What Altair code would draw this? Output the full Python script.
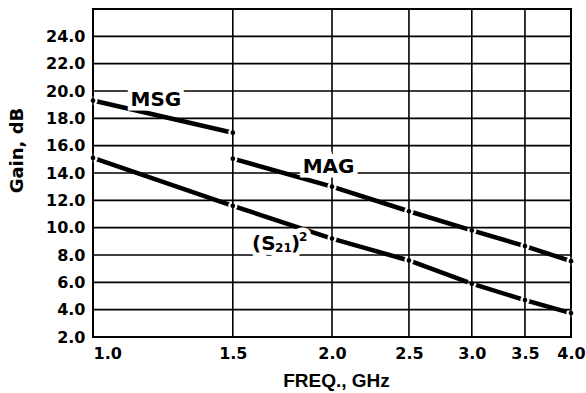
import altair as alt
import pandas as pd

# Gain curves versus frequency
msg_freq = [1.0, 1.5]
msg_gain = [19.3, 16.95]

mag_freq = [1.5, 2.0, 2.5, 3.0, 3.5, 4.0]
mag_gain = [15.05, 13.0, 11.2, 9.8, 8.65, 7.55]

s21_freq = [1.0, 1.5, 2.0, 2.5, 3.0, 3.5, 4.0]
s21_gain = [15.1, 11.6, 9.2, 7.6, 5.9, 4.7, 3.75]

# Axis ticks
x_ticks = [1.0, 1.5, 2.0, 2.5, 3.0, 3.5, 4.0]
y_ticks = [2, 4, 6, 8, 10, 12, 14, 16, 18, 20, 22, 24]
y_grid = y_ticks + [26]

# Curve labels
label_text = ["MSG", "MAG"]
label_freq = [1.20, 1.98]
label_gain = [19.35, 14.45]

# (S21)^2 label anchor (left edge, vertical centre)
s21_label_freq = [1.586]
s21_label_gain = [8.8]

rows = []
for name, fs, gs in [("MSG", msg_freq, msg_gain), ("MAG", mag_freq, mag_gain),
                     ("S21", s21_freq, s21_gain)]:
    for f, g in zip(fs, gs):
        rows.append({"series": name, "freq": f, "gain": g})
curves = pd.DataFrame(rows)
labels = pd.DataFrame({"text": label_text, "freq": label_freq, "gain": label_gain})
s21_anchor = pd.DataFrame({"freq": s21_label_freq, "gain": s21_label_gain})
xgrid = pd.DataFrame({"freq": x_ticks})
ygrid = pd.DataFrame({"gain": y_grid})

x_scale = alt.Scale(type="log", domain=[1.0, 4.0], nice=False)
y_scale = alt.Scale(domain=[2, 26], nice=False, zero=False)

x_axis = alt.Axis(
    values=x_ticks, format=".1f", grid=False, ticks=False, domain=False,
    labelFont="DejaVu Sans", labelFontWeight="bold", labelFontSize=16,
    labelColor="black", labelPadding=8, labelOverlap=False,
    labelAlign={"condition": {"test": "datum.value <= 1", "value": "left"}, "value": "center"},
    title="FREQ., GHz", titleFont="Liberation Sans", titleFontSize=19,
    titleFontWeight="bold", titleColor="black", titleX=243, titleY=49,
    titleBaseline="alphabetic", titleAnchor="start", titleAlign="center",
)
y_axis = alt.Axis(
    values=y_ticks, format=".1f", grid=False, ticks=False, domain=False,
    labelFont="DejaVu Sans", labelFontWeight="bold", labelFontSize=16,
    labelColor="black", labelPadding=8, labelOverlap=False, labelBound=False,
    labelSeparation=0,
    title="Gain, dB", titleFont="DejaVu Sans", titleFontSize=18,
    titleFontWeight="bold", titleColor="black", titleX=-76, titleY=141,
    titleAngle=-90, titleAlign="center", titleBaseline="middle",
)

# Same encodings in every layer so the merged axes agree
X = alt.X("freq:Q", scale=x_scale, axis=x_axis)
Y = alt.Y("gain:Q", scale=y_scale, axis=y_axis)

lines = alt.Chart(curves).mark_line(color="black", strokeWidth=4.5, strokeCap="butt").encode(
    x=X, y=Y, detail="series:N",
)
gaps = alt.Chart(curves).mark_point(filled=True, color="white", size=85, opacity=1, shape="circle").encode(
    x=X, y=Y
)
vgrid = alt.Chart(xgrid).mark_rule(color="black", strokeWidth=1.6).encode(x=X)
hgrid = alt.Chart(ygrid).mark_rule(color="black", strokeWidth=1.6).encode(y=Y)
dots = alt.Chart(curves).mark_point(filled=True, color="black", size=22, opacity=1, shape="circle").encode(
    x=X, y=Y
)


def text_layer(df, text, size, dx=0, dy=0, align="center", halo=False):
    """One text piece; with halo=True a white outline that clears the grid behind it."""
    props = dict(font="DejaVu Sans", fontSize=size, fontWeight="bold", baseline="middle",
                 align=align, dx=dx, dy=dy)
    if halo:
        props.update(color="white", stroke="white", strokeWidth=9)
    else:
        props.update(color="black")
    if text is None:
        return alt.Chart(df).mark_text(**props).encode(x=X, y=Y, text="text:N")
    return alt.Chart(df).mark_text(text=text, **props).encode(x=X, y=Y)


# (S21)^2 built from pieces: main text, subscript, closing paren, superscript
s21_pieces = [
    ("(S", 20, 0, 0),
    ("21", 12, 23, 4),
    (")", 20, 39, 0),
    ("2", 12, 47, -7),
]

layers = [lines, gaps, vgrid, hgrid, dots]
for halo in (True, False):
    layers.append(text_layer(labels, None, 20, halo=halo))
    for txt, sz, dx, dy in s21_pieces:
        layers.append(text_layer(s21_anchor, txt, sz, dx=dx, dy=dy, align="left", halo=halo))

chart = alt.layer(*layers).properties(
    width=478, height=328,
    autosize=alt.AutoSizeParams(type="none"),
    padding={"left": 93, "top": 9, "right": 15, "bottom": 56},
    background="white",
).configure_view(stroke="black", strokeWidth=2).configure_axis(labelOverlap=False)

chart.save("out.html", embed_options={"renderer": "svg", "actions": False})
